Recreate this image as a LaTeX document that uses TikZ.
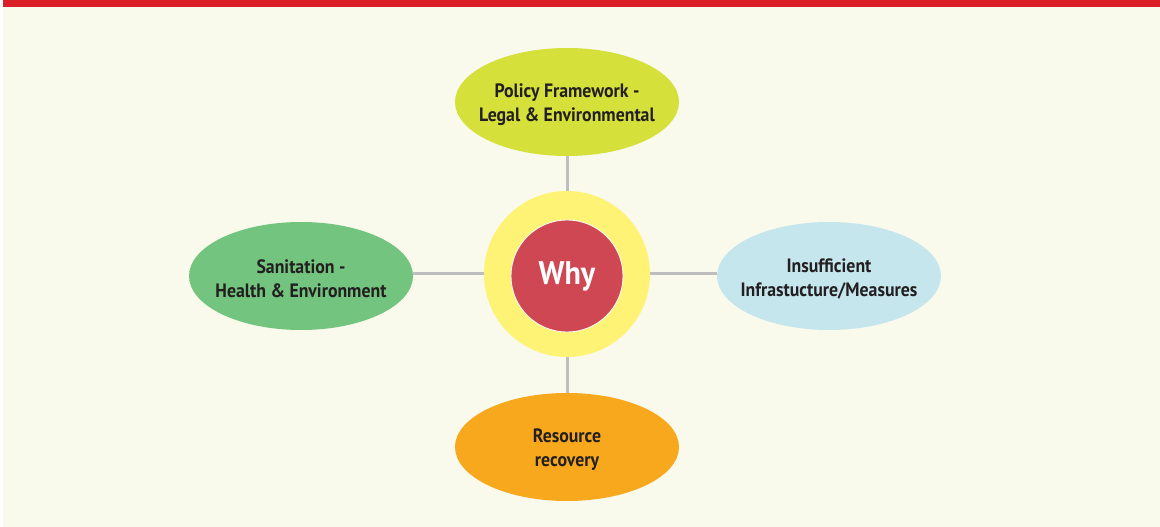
\documentclass[tikz,border=0pt]{standalone}
\usepackage{fontspec}
\setmainfont{PT Sans}[FakeStretch=0.92]
\usetikzlibrary{shapes.geometric}
\definecolor{pagebg}{HTML}{F9F9EC}
\definecolor{topbar}{HTML}{DA1F28}
\definecolor{policy}{HTML}{D5E03B}
\definecolor{sanit}{HTML}{72C47E}
\definecolor{infra}{HTML}{C5E6ED}
\definecolor{recov}{HTML}{F7A81C}
\definecolor{ring}{HTML}{FFF375}
\definecolor{core}{HTML}{CF4752}
\definecolor{link}{HTML}{BEBEBE}
\definecolor{ink}{HTML}{231F20}
\tikzset{
  topictext/.style={align=center, text=ink, inner sep=0pt, yshift=-2pt,
    font=\fontsize{14.5pt}{18pt}\selectfont\bfseries},
  topic/.style={ellipse, inner sep=0pt, minimum width=168pt, minimum height=81pt,
    label={[topictext]center:#1}},
  connector/.style={draw=link, line width=2.25pt},
}
\begin{document}
\begin{tikzpicture}[x=0.75pt, y=-0.75pt]
  \useasboundingbox (0,0) rectangle (1160,527);
  % page background and top band
  \fill[white] (0,0) rectangle (1160,527);
  \fill[pagebg] (3,0) rectangle (1160,527);
  \fill[topbar] (3,0) rectangle (1160,7);

  % centre: ring and core
  \node[circle, fill=ring, minimum size=124.5pt, inner sep=0pt] (ringc) at (567,274) {};
  \node[circle, fill=core, draw=white, line width=0.6pt, minimum size=84pt, inner sep=0pt,
        text=white, font=\fontsize{24.5pt}{28pt}\selectfont\bfseries] (why) at (567,276) {Why};

  % topics
  \node[topic={Policy Framework -\\Legal \& Environmental}, fill=policy] (policy) at (567,102) {};
  \node[topic={Sanitation -\\Health \& Environment}, fill=sanit] (sanit) at (301,276) {};
  \node[topic={Insufficient\\Infrastucture/Measures}, fill=infra] (infra) at (829,276) {};
  \node[topic={Resource\\recovery}, fill=recov] (recov) at (567,447) {};

  % connectors
  \draw[connector] (ringc) -- (policy);
  \draw[connector] (ringc) -- (recov);
  \draw[connector] (ringc.west) -- (sanit.east |- ringc.west);
  \draw[connector] (ringc.east) -- (infra.west |- ringc.east);
\end{tikzpicture}
\end{document}
